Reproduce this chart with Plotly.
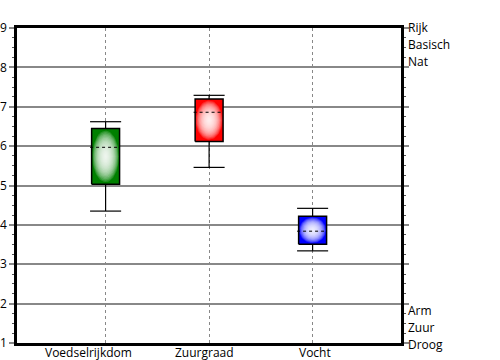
import numpy as np
import plotly.graph_objects as go

categories = ["Voedselrijkdom", "Zuurgraad", "Vocht"]
whisker_low = [4.35, 5.46, 3.34]
box_low = [5.03, 6.12, 3.51]
mean_vals = [5.97, 6.86, 3.84]
box_high = [6.45, 7.20, 4.22]
whisker_high = [6.62, 7.29, 4.42]
colors = ["#008000", "#FF0000", "#0000FF"]
y_ticks = [1, 2, 3, 4, 5, 6, 7, 8, 9]
right_top = ["Rijk", "Basisch", "Nat"]
right_bottom = ["Arm", "Zuur", "Droog"]

FONT = "Open Sans"
BW = 0.135
WW = 0.15
LABEL_SHIFT = [-17, -5, 2]

fig = go.Figure()
for i, cat in enumerate(categories):
    x0, x1 = i - BW, i + BW
    lo, hi = box_low[i], box_high[i]
    fig.add_trace(go.Scatter(x=[x0, x1, x1, x0, x0], y=[lo, lo, hi, hi, lo],
                             mode="lines", fill="toself", fillcolor=colors[i],
                             line=dict(color="rgba(0,0,0,0)", width=0),
                             hoverinfo="skip", showlegend=False))
    cy = (lo + hi) / 2
    ry = (hi - lo) / 2
    t = np.linspace(0, 2 * np.pi, 60)
    n = 18
    for k in range(n):
        f = 1 - k / n
        fig.add_trace(go.Scatter(x=i + BW * 0.95 * f * np.cos(t), y=cy + ry * 0.92 * f * np.sin(t),
                                 mode="lines", fill="toself",
                                 fillcolor="rgba(255,255,255,0.15)",
                                 line=dict(width=0, color="rgba(0,0,0,0)"),
                                 hoverinfo="skip", showlegend=False))
    fig.add_trace(go.Scatter(x=[x0, x1, x1, x0, x0], y=[lo, lo, hi, hi, lo],
                             mode="lines", line=dict(color="black", width=1.5),
                             hoverinfo="skip", showlegend=False))
    fig.add_trace(go.Scatter(x=[i, i, None, i, i, None, i - WW, i + WW, None, i - WW, i + WW],
                             y=[lo, whisker_low[i], None, hi, whisker_high[i], None,
                                whisker_low[i], whisker_low[i], None, whisker_high[i], whisker_high[i]],
                             mode="lines", line=dict(color="black", width=1.2),
                             hoverinfo="skip", showlegend=False))
    fig.add_trace(go.Scatter(x=[i - WW, i + BW - 0.01], y=[mean_vals[i], mean_vals[i]],
                             mode="lines", line=dict(color="black", width=1, dash="3px,3px"),
                             hoverinfo="skip", showlegend=False))
    fig.add_annotation(x=i, y=0, xref="x", yref="paper", text=cat, showarrow=False,
                       xanchor="center", yanchor="middle", yshift=-9, xshift=LABEL_SHIFT[i],
                       font=dict(family=FONT, size=12, color="black"))

fig.update_xaxes(range=[-0.856, 2.854], tickmode="array", tickvals=[0, 1, 2],
                 showticklabels=False,
                 showgrid=True, gridcolor="#888888", griddash="3px,3px", gridwidth=1,
                 showline=True, linecolor="black", linewidth=2.5, mirror=True, automargin=False,
                 ticks="", zeroline=False)
fig.update_yaxes(range=[1, 9], tickmode="array", tickvals=y_ticks, automargin=False,
                 showgrid=True, gridcolor="#888888", gridwidth=1.5,
                 showline=True, linecolor="black", linewidth=2.5, mirror="ticks",
                 ticks="outside", ticklen=5, tickcolor="#888888", tickwidth=1.5,
                 minor=dict(dtick=0.25, ticks="outside", ticklen=2, tickcolor="#555555", tickwidth=1),
                 zeroline=False, tickfont=dict(family=FONT, size=12, color="black"))

for j, txt in enumerate(right_top):
    fig.add_annotation(x=1, y=9, xref="paper", yref="y", text=txt, showarrow=False,
                       xanchor="left", yanchor="middle", xshift=5, yshift=-j * 17 + 1,
                       font=dict(family=FONT, size=12, color="black"))
for j, txt in enumerate(right_bottom):
    fig.add_annotation(x=1, y=1, xref="paper", yref="y", text=txt, showarrow=False,
                       xanchor="left", yanchor="middle", xshift=5, yshift=(2 - j) * 17 - 1,
                       font=dict(family=FONT, size=12, color="black"))

fig.update_layout(width=500, height=360, margin=dict(l=17, r=99, t=28, b=17, autoexpand=False),
                  paper_bgcolor="white", plot_bgcolor="white", showlegend=False)
fig.write_html("out.html", config={"displayModeBar": False},
               post_script="document.body.style.margin='0';document.body.style.overflow='hidden';")
